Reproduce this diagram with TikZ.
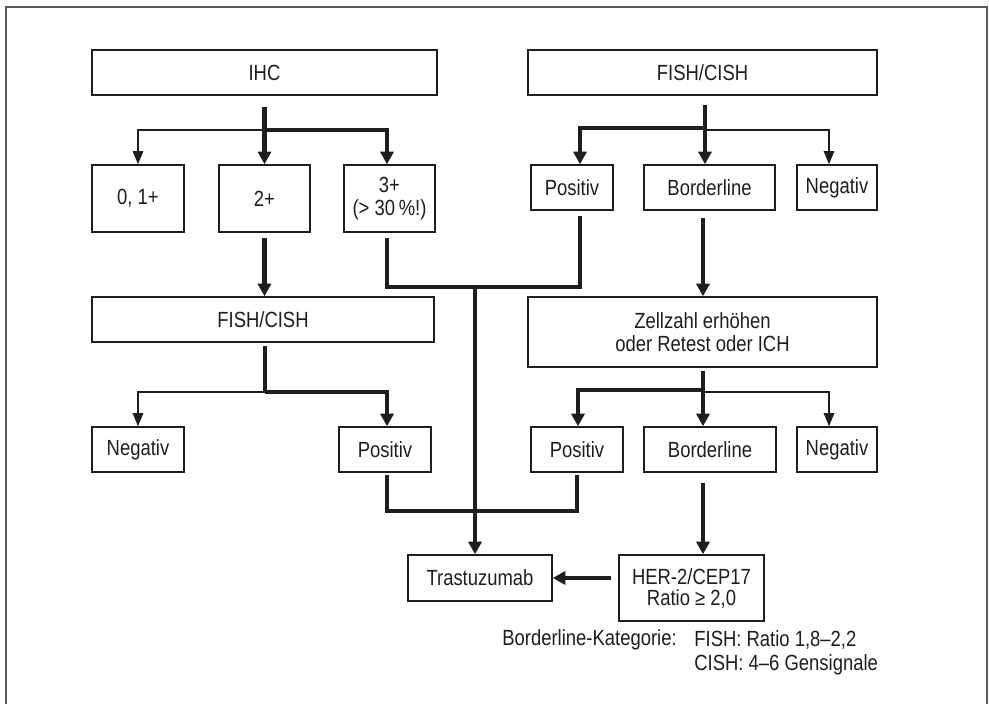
\documentclass[tikz,border=0pt]{standalone}
\usepackage{fontspec}
\setmainfont{Liberation Sans}[FakeStretch=0.84]
\usetikzlibrary{arrows.meta, positioning, calc}
\definecolor{lineDark}{HTML}{1E1E1E}
\definecolor{frameGray}{HTML}{5A5A5A}
\tikzset{
  arrowK/.style={-{Triangle[length=2.5mm, width=2.6mm]}, lineDark, line width=2.8pt},
  lineK/.style={lineDark, line width=2.8pt},
  arrowT/.style={-{Triangle[length=2.6mm, width=2.1mm]}, lineDark, line width=0.6pt},
  boxW/.style={rectangle, draw=lineDark, line width=0.9pt, align=center,
               text=lineDark, inner sep=2pt, minimum height=0.9cm},
  noteT/.style={anchor=west, inner sep=0pt, text=lineDark},
}

\begin{document}
\begin{tikzpicture}[x=0.02cm, y=-0.02cm, font=\fontsize{12.5}{13}\selectfont]
    \useasboundingbox (0,0) rectangle (989,703);
    % Rahmen (unten offen)
    \draw[frameGray, line width=0.04cm] (6,720) -- (6,7) -- (987,7) -- (987,720);

    % IHC-Zweig
    \node[boxW, minimum width=6.9cm] (ihc) at (264.5,72.5) {IHC};
    \node[boxW, minimum width=1.84cm, minimum height=1.34cm] (b01) at (138,198.5) {0, 1+};
    \node[boxW, minimum width=1.82cm, minimum height=1.34cm] (b2) at (264.5,198.5) {2+};
    \node[boxW, minimum width=1.82cm, minimum height=1.34cm] (b3) at (389.5,198.5) {3+\\(> 30\,\%!)};
    \node[boxW, minimum width=6.84cm] (fishB) at (263,319.5) {FISH/CISH};
    \node[boxW, minimum width=1.84cm] (negB) at (138,449.5) {Negativ};
    \node[boxW, minimum width=1.84cm] (posB) at (385,449.5) {Positiv};

    % FISH/CISH-Zweig
    \node[boxW, minimum width=6.98cm] (fishA) at (702.5,72.5) {FISH/CISH};
    \node[boxW, minimum width=1.64cm] (posA) at (572,187.5) {Positiv};
    \node[boxW, minimum width=2.62cm] (borA) at (709.5,187.5) {Borderline};
    \node[boxW, minimum width=1.6cm] (negA) at (837,187.5) {Negativ};
    \node[boxW, minimum width=6.98cm, minimum height=1.4cm] (zell) at (702.5,332)
         {Zellzahl erhöhen\\oder Retest oder ICH};
    \node[boxW, minimum width=1.84cm] (posC) at (577,449.5) {Positiv};
    \node[boxW, minimum width=2.64cm] (borC) at (710,449.5) {Borderline};
    \node[boxW, minimum width=1.6cm] (negC) at (837,449.5) {Negativ};

    % Ergebnis
    \node[boxW, minimum width=2.88cm, minimum height=0.92cm] (tras) at (480,578) {Trastuzumab};
    \node[boxW, minimum width=2.9cm, minimum height=1.32cm, font=\fontsize{12.5}{12}\selectfont]
         (her) at (691.5,588) {HER-2/CEP17\\Ratio ≥ 2,0};
    \node[noteT] (katL) at (502,640) {Borderline-Kategorie:};
    \node[noteT] (katF) at (694,640) {FISH: Ratio 1,8--2,2};
    \node[noteT] (katC) at (694,665) {CISH: 4--6 Gensignale};

    % Verbindungen oben links
    \coordinate (jI) at (265,130);
    \draw[arrowK, shorten <=0.22cm] (ihc.south) -- (b2.north);
    \draw[arrowK] (jI) -| ([xshift=-0.05cm]b3.north);
    \draw[arrowT] (jI) -| (b01.north);

    % Verbindungen oben rechts
    \coordinate (jF) at (705,128);
    \draw[arrowK, shorten <=0.18cm] (fishA.south -| jF) -- (borA.north -| jF);
    \draw[arrowK] (jF) -| ([xshift=0.16cm]posA.north);
    \draw[arrowT] ([yshift=-0.04cm]jF) -| ([xshift=-0.16cm]negA.north);

    % 3+ und Positiv zum Stamm
    \coordinate (mL) at (387,287);
    \coordinate (mR) at (580,287);
    \coordinate (jM) at (475,287);
    \draw[lineK, shorten <=0.1cm, shorten >=0.1cm]
         (b3.south -| mL) -- (mL) -- (mR) -- (posA.south -| mR);
    \draw[arrowK] (jM) -- (tras.north -| jM);

    % 2+ -> FISH/CISH -> Negativ / Positiv
    \coordinate (jB) at (265,392);
    \draw[arrowK, shorten <=0.1cm] (b2.south) -- (b2.south |- fishB.north);
    \draw[lineK, shorten <=0.06cm] (fishB.south -| jB) -- (jB);
    \draw[arrowK] (jB) -| ([xshift=0.04cm]posB.north);
    \draw[arrowT] (jB) -| (negB.north);

    % Borderline -> Zellzahl -> ...
    \coordinate (jZ) at (703,390);
    \draw[arrowK, shorten <=0.14cm] (borA.south -| jZ) -- (zell.north -| jZ);
    \draw[arrowK, shorten <=0.06cm] (zell.south -| jZ) -- (borC.north -| jZ);
    \draw[arrowK] (jZ) -| ([xshift=0.02cm]posC.north);
    \draw[arrowT] ([yshift=-0.04cm]jZ) -| ([xshift=-0.16cm]negC.north);

    % untere Positiv-Boxen
    \coordinate (uL) at (387,511);
    \coordinate (uR) at (577,511);
    \draw[lineK, shorten <=0.04cm, shorten >=0.04cm]
         (posB.south -| uL) -- (uL) -- (uR) -- (posC.south -| uR);

    % Borderline -> HER-2 -> Trastuzumab
    \draw[arrowK, shorten <=0.2cm] (borC.south -| jZ) -- (her.north -| jZ);
    \draw[arrowK, shorten <=0.14cm] (tras.east -| her.west) -- (tras.east);
\end{tikzpicture}
\end{document}
